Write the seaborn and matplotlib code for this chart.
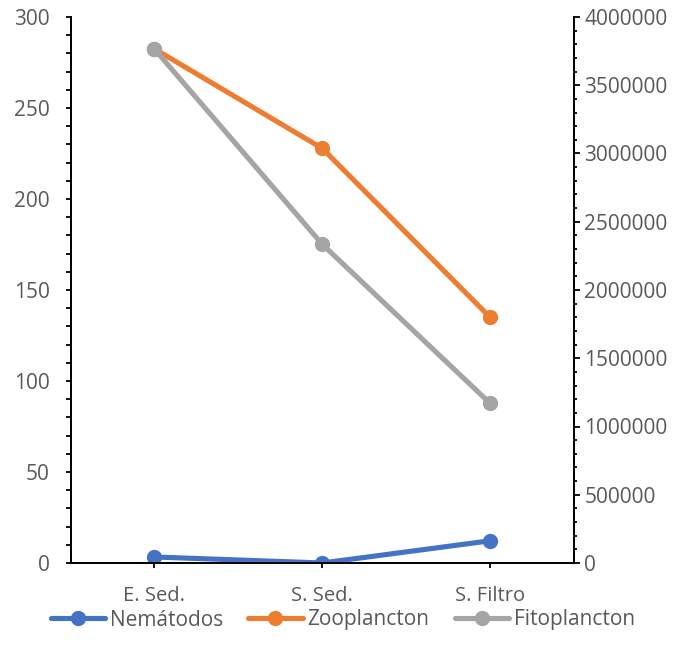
import matplotlib
matplotlib.use("Agg")
import matplotlib.pyplot as plt
from matplotlib.ticker import MultipleLocator
import seaborn as sns
import pandas as pd

sns.set_style("white")
plt.rcParams["font.family"] = ["Open Sans", "DejaVu Sans"]

categorias = ["E. Sed.", "S. Sed.", "S. Filtro"]
nematodos = [3.3, 0.0, 12.2]
zooplancton = [282.5, 227.8, 135.0]
fitoplancton = [3765000, 2335000, 1170000]

df = pd.DataFrame({
    "sitio": categorias,
    "Nemátodos": nematodos,
    "Zooplancton": zooplancton,
    "Fitoplancton": fitoplancton,
})

c_blue, c_orange, c_gray = "#4472C4", "#ED7D31", "#A5A5A5"
tick_col = "#595959"
lw, ms = 3.7, 11

fig = plt.figure(figsize=(6.86, 6.63), dpi=100)
ax = fig.add_axes([70.5 / 686, 100 / 663, (574 - 70.5) / 686, (563 - 17) / 663])
ax2 = ax.twinx()

sns.lineplot(data=df, x="sitio", y="Nemátodos", ax=ax, color=c_blue, lw=lw,
             marker="o", markersize=ms, markeredgewidth=0, sort=False,
             label="Nemátodos", legend=False)
sns.lineplot(data=df, x="sitio", y="Zooplancton", ax=ax, color=c_orange, lw=lw,
             marker="o", markersize=ms, markeredgewidth=0, sort=False,
             label="Zooplancton", legend=False)
sns.lineplot(data=df, x="sitio", y="Fitoplancton", ax=ax2, color=c_gray, lw=lw,
             marker="o", markersize=ms, markeredgewidth=0, sort=False,
             label="Fitoplancton", legend=False)

ax.set_xlim(-0.5, 2.5)
ax.set_ylim(0, 300)
ax2.set_ylim(0, 4000000)
ax.set_xlabel("")
ax.set_ylabel("")
ax2.set_ylabel("")

ax.yaxis.set_major_locator(MultipleLocator(50))
ax.yaxis.set_minor_locator(MultipleLocator(10))
ax2.yaxis.set_major_locator(MultipleLocator(500000))
ax2.yaxis.set_minor_locator(MultipleLocator(100000))
ax2.ticklabel_format(axis="y", style="plain", useOffset=False)

for a in (ax, ax2):
    for s in a.spines.values():
        s.set_color("black")
        s.set_linewidth(1.3)
    a.spines["top"].set_visible(False)

ax.tick_params(axis="y", which="major", direction="out", length=3.8, width=1.3,
               color="black", labelcolor=tick_col, labelsize=15, pad=11, left=True)
ax.tick_params(axis="y", which="minor", direction="out", length=3.4, width=1.3,
               color="black", left=True)
ax.tick_params(axis="x", direction="out", length=3.6, width=1.3, color="black",
               labelcolor=tick_col, labelsize=14.5, pad=13, bottom=True)
ax2.tick_params(axis="y", which="major", direction="out", length=4.3, width=1.3,
                color="black", labelcolor=tick_col, labelsize=15, pad=3, right=True)
ax2.tick_params(axis="y", which="minor", direction="out", length=2.3, width=1.3,
                color="black", right=True)

handles = ax.get_lines()[:2] + ax2.get_lines()[:1]
labels = ["Nemátodos", "Zooplancton", "Fitoplancton"]
fig.legend(handles, labels, loc="center", bbox_to_anchor=(0.5, 1 - 620 / 663),
           ncol=3, frameon=False, fontsize=15, handlelength=2.6,
           handletextpad=0.25, columnspacing=1.2, labelcolor=tick_col)

fig.savefig("out.png", dpi=100)
